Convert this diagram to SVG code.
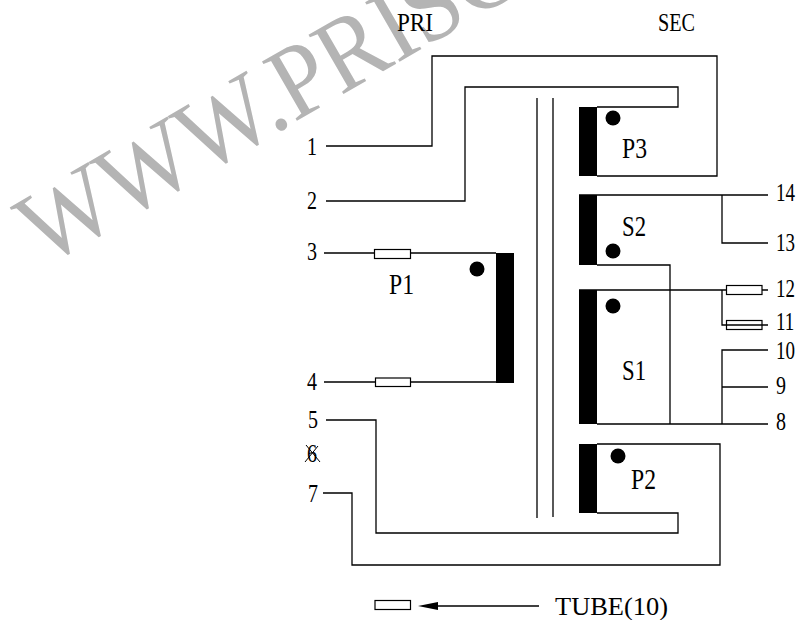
<svg xmlns="http://www.w3.org/2000/svg" width="796" height="620" viewBox="0 0 796 620">
<style>
.w{fill:none;stroke:#000;stroke-width:1.3}
.x{fill:none;stroke:#000;stroke-width:1}
.b{fill:#000}
.t{fill:#fff;stroke:#000;stroke-width:1.2}
text{font-family:"Liberation Serif",serif;fill:#000}
.l{font-size:25px}
.n{font-size:30px}
.wm{font-size:105px;fill:#b4b4b4}
</style>
<rect width="796" height="620" fill="#fff"/>
<text id="watermark" class="wm" transform="translate(44 267) rotate(-30) scale(0.92 1)">WWW.PRISC</text>
<g id="connectors">
<path class="w" d="M326 146H432V56H717V176H597"/>
<path class="w" d="M326 201H465V87H678V107H597"/>
<path class="w" d="M537 98V518M553 98V517"/>
<path class="w" d="M579 195H768M722 195V243H768"/>
<path class="w" d="M597 265H670V424"/>
<path class="w" d="M579 290H768M722 290V325H768"/>
<path class="w" d="M597 424H768M722 424V350H768M722 387H768"/>
<path class="w" d="M597 444H720V565H352V493H323"/>
<path class="w" d="M597 513H678V533H376V420H326"/>
<path class="w" d="M324 253H496M324 382H496"/>
<path class="w" d="M438 606H539"/>
<polygon class="b" points="418,606 438,602 438,610"/>
</g>
<g id="tube-3"><rect class="t" x="374.500" y="249.500" width="36" height="9"/></g>
<g id="tube-4"><rect class="t" x="375.500" y="378" width="35" height="8.500"/></g>
<g id="tube-12"><rect class="t" x="726.500" y="285.500" width="35.500" height="9"/></g>
<g id="tube-11"><rect class="t" style="fill:none" x="726.500" y="320.500" width="35.500" height="9"/></g>
<g id="tube-legend"><rect class="t" x="375" y="600.500" width="35.500" height="9"/></g>
<g id="P1"><rect class="b" x="496" y="253" width="18" height="130"/><circle class="b" cx="477" cy="269" r="7.500"/><text class="n" x="389" y="294" textLength="25" lengthAdjust="spacingAndGlyphs">P1</text></g>
<g id="P3"><rect class="b" x="579" y="107" width="18" height="69"/><circle class="b" cx="613" cy="118" r="7.500"/><text class="n" x="622" y="158" textLength="25" lengthAdjust="spacingAndGlyphs">P3</text></g>
<g id="S2"><rect class="b" x="579" y="195" width="18" height="70"/><circle class="b" cx="613" cy="251" r="7.500"/><text class="n" x="622" y="236" textLength="24" lengthAdjust="spacingAndGlyphs">S2</text></g>
<g id="S1"><rect class="b" x="579" y="290" width="18" height="134"/><circle class="b" cx="613" cy="306" r="7.500"/><text class="n" x="622" y="380" textLength="24" lengthAdjust="spacingAndGlyphs">S1</text></g>
<g id="P2"><rect class="b" x="579" y="444" width="18" height="69"/><circle class="b" cx="618" cy="456" r="7.500"/><text class="n" x="631" y="489" textLength="25" lengthAdjust="spacingAndGlyphs">P2</text></g>
<g id="labels">
<text class="l" x="397" y="31" textLength="36" lengthAdjust="spacingAndGlyphs">PRI</text>
<text class="l" x="658" y="31" textLength="37" lengthAdjust="spacingAndGlyphs">SEC</text>
<text class="l" x="307" y="155" textLength="10" lengthAdjust="spacingAndGlyphs">1</text>
<text class="l" x="307" y="209" textLength="10" lengthAdjust="spacingAndGlyphs">2</text>
<text class="l" x="307" y="260" textLength="10" lengthAdjust="spacingAndGlyphs">3</text>
<text class="l" x="307" y="390" textLength="10" lengthAdjust="spacingAndGlyphs">4</text>
<text class="l" x="308" y="428" textLength="10" lengthAdjust="spacingAndGlyphs">5</text>
<text class="l" x="307" y="462" textLength="10" lengthAdjust="spacingAndGlyphs">6</text>
<path class="x" d="M306 445L320 462M318 446L305 462"/>
<text class="l" x="308" y="502" textLength="10" lengthAdjust="spacingAndGlyphs">7</text>
<text class="l" transform="translate(776 201) scale(.76 1)">14</text>
<text class="l" transform="translate(776 251) scale(.76 1)">13</text>
<text class="l" transform="translate(776 297) scale(.76 1)">12</text>
<text class="l" transform="translate(776 330) scale(.76 1)">11</text>
<text class="l" transform="translate(776 359) scale(.76 1)">10</text>
<text class="l" x="776" y="394" textLength="10" lengthAdjust="spacingAndGlyphs">9</text>
<text class="l" x="776" y="430" textLength="10" lengthAdjust="spacingAndGlyphs">8</text>
<text class="l" x="555" y="615" textLength="113" lengthAdjust="spacingAndGlyphs">TUBE(10)</text>
</g>
</svg>
